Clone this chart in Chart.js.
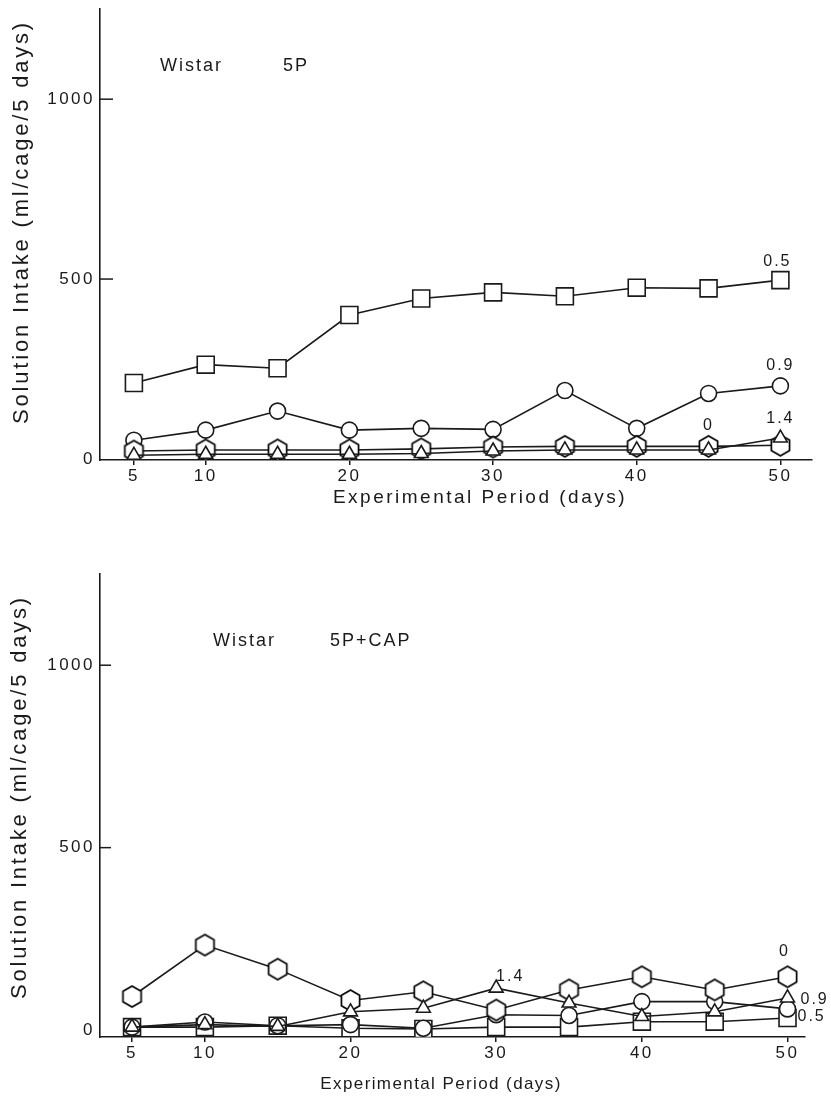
<!DOCTYPE html>
<html><head><meta charset="utf-8">
<script src="https://cdn.jsdelivr.net/npm/chart.js@4/dist/chart.umd.min.js"></script>
<style>
html,body{margin:0;padding:0;background:#fff;}
#wrap{position:relative;width:831px;height:1101px;background:#fff;overflow:hidden;}
#c1{position:absolute;left:0;top:0;}
#c2{position:absolute;left:0;top:560px;}
</style></head><body>
<div id="wrap">
<canvas id="c1" width="831" height="520"></canvas>
<canvas id="c2" width="831" height="541"></canvas>
</div>
<script>
// ---- data ----
const days = [5,10,15,20,25,30,35,40,45,50];
const xTickValues = [5,10,20,30,40,50];
const yTickValues = [0,500,1000];
const seriesNames = ['0.5','0.9','0','1.4'];
const yTitleText = 'Solution Intake (ml/cage/5 days)';
const xTitleText = 'Experimental Period (days)';
const topCaption = ['Wistar','5P'];
const botCaption = ['Wistar','5P+CAP'];
// top panel: Wistar 5P
const top05 = [211,262,252,400,446,463,452,476,474,497];
const top09 = [52,80,133,80,85,82,190,85,182,203];
const top00 = [22,25,25,25,28,33,35,35,35,38];
const top14 = [10,13,13,13,15,22,25,25,25,58];
// bottom panel: Wistar 5P+CAP
const bot05 = [8,8,12,5,3,8,8,23,23,33];
const bot09 = [8,22,12,15,5,42,40,78,78,58];
const bot00 = [92,233,167,81,105,55,110,146,110,146];
const bot14 = [8,15,10,50,60,115,74,37,50,88];

// ---- styling ----
const FAM = '"Liberation Sans", Arial, Helvetica, sans-serif';
const INK = '#1a1a1a';

function hexagon(r){
  const s = Math.ceil(2*r+4);
  const c = document.createElement('canvas'); c.width = s; c.height = s;
  const g = c.getContext('2d');
  g.beginPath();
  for(let i=0;i<6;i++){
    const a = -Math.PI/2 + i*Math.PI/3;
    const px = s/2 + r*Math.cos(a), py = s/2 + r*Math.sin(a);
    if(i) g.lineTo(px,py); else g.moveTo(px,py);
  }
  g.closePath(); g.fillStyle = '#fff'; g.fill();
  g.lineWidth = 1.7; g.strokeStyle = '#000'; g.stroke();
  return c;
}
const HEX = hexagon(10.5);

// order: lower value is drawn on top
function ds(label, values, style, radius, order){
  return {
    label, order, data: days.map((d,i)=>({x:d, y:values[i]})),
    borderColor: INK, borderWidth: 1.6, tension: 0, fill: false,
    pointStyle: style, pointRadius: radius, pointHoverRadius: radius,
    pointBackgroundColor: '#fff', pointBorderColor: INK, pointBorderWidth: 1.6
  };
}

function drawText(ctx, text, x, y, font, spacing, align, rot){
  ctx.save();
  ctx.font = font; ctx.fillStyle = INK; ctx.letterSpacing = spacing;
  ctx.textAlign = align || 'left'; ctx.textBaseline = 'middle';
  ctx.translate(x, y);
  if(rot) ctx.rotate(rot);
  ctx.fillText(text, 0, 0);
  ctx.restore();
}

const textPlugin = {
  id: 'texts',
  beforeDraw(chart, args, o){ chart.ctx.letterSpacing = o.tickSpacing; },
  afterDraw(chart, args, o){
    const ctx = chart.ctx, a = chart.chartArea, ys = chart.scales.y;
    ctx.save();
    ctx.letterSpacing = '0px';
    ctx.strokeStyle = INK; ctx.lineWidth = 1.5;
    yTickValues.forEach(v=>{
      if(v===0) return;
      const y = ys.getPixelForValue(v);
      ctx.beginPath(); ctx.moveTo(a.left, y); ctx.lineTo(a.left + o.tickIn, y); ctx.stroke();
    });
    ctx.restore();
    o.captions.forEach(c => drawText(ctx, c.text, c.x, c.y, '18px ' + FAM, '2px', 'left'));
    drawText(ctx, xTitleText, o.xTitle.x, o.xTitle.y, o.xTitle.size + 'px ' + FAM, o.xTitle.sp, 'center');
    drawText(ctx, yTitleText, o.yTitle.x, o.yTitle.y, o.yTitle.size + 'px ' + FAM, o.yTitle.sp, 'center', -Math.PI/2);
    o.labels.forEach(l=>{
      const p = chart.getDatasetMeta(l.ds).data[l.idx];
      drawText(ctx, chart.data.datasets[l.ds].label, p.x + l.dx, p.y + l.dy, '16px ' + FAM, '2px', l.align);
    });
  }
};

function makeChart(canvas, datasets, cfg){
  return new Chart(canvas, {
    type: 'line',
    data: { datasets },
    options: {
      responsive: false, animation: false, devicePixelRatio: 1,
      layout: { padding: cfg.padding, autoPadding: false },
      plugins: { legend: {display:false}, tooltip: {enabled:false}, texts: cfg.texts },
      scales: {
        x: {
          type: 'linear', min: cfg.xMin, max: cfg.xMax,
          afterBuildTicks: s => { s.ticks = xTickValues.map(v=>({value:v})); },
          afterFit: s => { s.height = cfg.xHeight; },
          grid: { display: true, drawOnChartArea: false, drawTicks: true, tickLength: 5, color: INK, lineWidth: 1.5 },
          border: { display: true, color: INK, width: 1.6 },
          ticks: { font: {family: FAM, size: 17}, color: INK, padding: 1, maxRotation: 0, autoSkip: false,
                   callback: v => String(v) }
        },
        y: {
          type: 'linear', min: cfg.yMin, max: cfg.yMax,
          afterBuildTicks: s => { s.ticks = yTickValues.map(v=>({value:v})); },
          afterFit: s => { s.width = 100; },
          grid: { display: false, drawTicks: false },
          border: { display: true, color: INK, width: 1.6 },
          ticks: { font: {family: FAM, size: 17, lineHeight: 0.5}, color: INK, padding: 5,
                   callback: v => String(v) }
        }
      }
    },
    plugins: [textPlugin]
  });
}

makeChart(document.getElementById('c1'), [
  ds(seriesNames[0], top05, 'rect', 12, 3),
  ds(seriesNames[1], top09, 'circle', 8, 2),
  ds(seriesNames[2], top00, HEX, 10, 1),
  ds(seriesNames[3], top14, 'triangle', 8, 0)
], {
  padding: {left:0, right:19, top:3, bottom:0},
  xMin: 2.64, xMax: 52.2, yMin: -3, yMax: 1250, xHeight: 60,
  texts: {
    tickSpacing: '2.5px', tickIn: 13,
    captions: [{text: topCaption[0], x:160, y:66}, {text: topCaption[1], x:283, y:66}],
    xTitle: {x:480, y:498, size:19, sp:'2.5px'},
    yTitle: {x:22, y:222, size:22, sp:'2.8px'},
    labels: [
      {ds:0, idx:9, dx:-3, dy:-19, align:'center'},
      {ds:1, idx:9, dx:0, dy:-20, align:'center'},
      {ds:2, idx:8, dx:0, dy:-21, align:'center'},
      {ds:3, idx:9, dx:0, dy:-19, align:'center'}
    ]
  }
});

makeChart(document.getElementById('c2'), [
  ds(seriesNames[0], bot05, 'rect', 12, 3),
  ds(seriesNames[1], bot09, 'circle', 8, 2),
  ds(seriesNames[3], bot14, 'triangle', 8, 0),
  ds(seriesNames[2], bot00, HEX, 10, 1)
], {
  padding: {left:0, right:26, top:14, bottom:0},
  xMin: 2.8, xMax: 51.2, yMin: -19, yMax: 1250, xHeight: 64,
  texts: {
    tickSpacing: '2.5px', tickIn: 11,
    captions: [{text: botCaption[0], x:213, y:81}, {text: botCaption[1], x:330, y:81}],
    xTitle: {x:441, y:524, size:17, sp:'1.4px'},
    yTitle: {x:20, y:237, size:22, sp:'2.8px'},
    labels: [
      {ds:2, idx:5, dx:14, dy:-12, align:'center'},
      {ds:3, idx:9, dx:-3, dy:-25, align:'center'},
      {ds:1, idx:9, dx:13, dy:-9, align:'left'},
      {ds:0, idx:9, dx:10, dy:-1, align:'left'}
    ]
  }
});
</script>
</body></html>
